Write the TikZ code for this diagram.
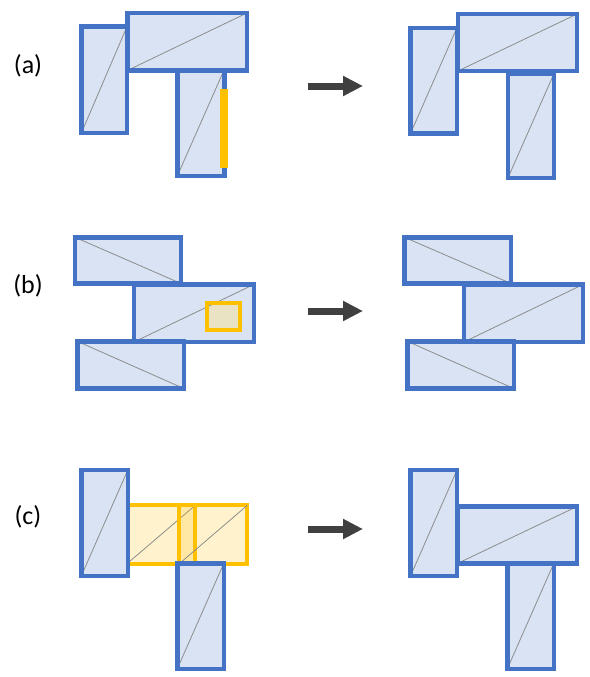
\documentclass[tikz,border=0pt]{standalone}
\usepackage{fontspec}
\setmainfont{Carlito}
\usetikzlibrary{arrows.meta}
\definecolor{blockblue}{HTML}{4472C4}
\definecolor{blockfill}{HTML}{DAE3F3}
\definecolor{hilite}{HTML}{FFC000}
\definecolor{spotfill}{HTML}{EAE3C3}
\definecolor{diaggray}{HTML}{8C8C8C}
\definecolor{arrowgray}{HTML}{404040}
\tikzset{
  block/.style={draw=blockblue, fill=blockfill, line width=4.5pt, line join=miter},
  diag/.style={draw=diaggray, line width=0.8pt},
  ghost/.style={draw=hilite, fill=hilite, fill opacity=0.2, line width=4.2pt},
  spot/.style={draw=hilite, line width=4.2pt},
  marker/.style={draw=hilite, line width=8.5pt},
  stepArrow/.style={draw=arrowgray, line width=7pt, -{Triangle[length=20pt,width=19pt]}},
  tag/.style={font=\fontsize{26}{30}\selectfont, inner sep=0pt}
}
% rectangle with a rising diagonal (bottom-left to top-right)
\newcommand\blkup[4]{%
  \fill[blockfill] (#1,#2) rectangle (#3,#4);
  \draw[diag] (#1,#4) -- (#3,#2);
  \draw[block, fill=none] (#1,#2) rectangle (#3,#4);}
% rectangle with a falling diagonal (top-left to bottom-right)
\newcommand\blkdown[4]{%
  \fill[blockfill] (#1,#2) rectangle (#3,#4);
  \draw[diag] (#1,#2) -- (#3,#4);
  \draw[block, fill=none] (#1,#2) rectangle (#3,#4);}
\begin{document}
\begin{tikzpicture}[x=1pt, y=-1pt]
\useasboundingbox (0,0) rectangle (589,677);

% ---------- (a) ----------
\node[tag] (la) at (28,66) {(a)};
\blkup{81.5}{26.5}{127}{132.8}
\blkup{177.3}{69}{224.5}{176}
\blkup{127.3}{13}{247}{70.5}
\draw[marker] (224,89) -- (224,168);

\coordinate (a1) at (308,86);
\coordinate (a2) at (363,86);
\draw[stepArrow] (a1) -- (a2);

\blkup{410.5}{28}{456.8}{133.5}
\blkup{508}{74}{553.8}{177.8}
\blkup{458}{14}{577}{71}

% ---------- (b) ----------
\node[tag] (lb) at (28,286) {(b)};
\blkdown{75}{237.3}{181}{283.5}
\blkup{134}{284.5}{253.8}{342}
\blkdown{77.3}{341.3}{183.8}{388.5}
\begin{scope}
  \clip (207.3,302.7) rectangle (239.7,330.3);
  \fill[spotfill] (207.3,302.7) rectangle (239.7,330.3);
  \draw[diag] (134,342) -- (253.8,284.5);
\end{scope}
\draw[spot] (207.3,302.7) rectangle (239.7,330.3);

\coordinate (b1) at (308,311);
\coordinate (b2) at (363,311);
\draw[stepArrow] (b1) -- (b2);

\blkdown{404.5}{237.3}{511}{283.5}
\blkup{464}{284.5}{583}{342}
\blkdown{407.3}{341.3}{513.8}{388.5}

% ---------- (c) ----------
\node[tag] (lc) at (28,517) {(c)};
\draw[ghost] (127,505.3) rectangle (195.3,563.7);
\draw[diag] (127,563.7) -- (195.3,505.3);
\draw[ghost] (179.3,505.3) rectangle (247.3,563.7);
\draw[diag] (179.3,563.7) -- (247.3,505.3);
\blkup{81.3}{470}{127.8}{576}
\blkup{177.3}{563.3}{223.8}{668.8}

\coordinate (c1) at (308,529);
\coordinate (c2) at (363,529);
\draw[stepArrow] (c1) -- (c2);

\blkup{410.5}{470}{457}{576}
\blkup{457.3}{506.5}{577}{563.5}
\blkup{507.3}{563.3}{553.8}{668.8}
\end{tikzpicture}
\end{document}
